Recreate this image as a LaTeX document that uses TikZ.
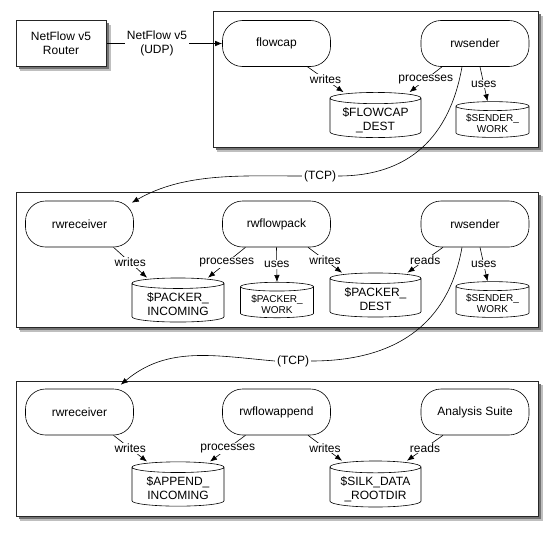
\documentclass[tikz,border=0pt]{standalone}
\usepackage{fontspec}
\setmainfont{Liberation Sans}
\usetikzlibrary{shapes.geometric,arrows.meta}

% two lines of text, set a little low in the drum
\newcommand\drumtext[2]{\raisebox{-3pt}[\height][\depth]{\begin{tabular}{@{}c@{}}#1\\#2\end{tabular}}}

\tikzset{
  panel/.style={draw=black!85, fill=white, line width=1pt},
  shade/.style={fill=black!55},
  softshade/.style={fill=black!25},
  proc/.style={draw, fill=white, rounded corners=20pt, minimum width=108pt,
    minimum height=46pt, line width=0.6pt},
  store/.style={draw, fill=white, cylinder, shape border rotate=90, aspect=0.17,
    anchor=shape center, line width=0.6pt, inner sep=0pt},
  bigstore/.style={store, minimum width=91pt, minimum height=44pt},
  smallstore/.style={store, minimum width=73pt, minimum height=35pt,
    font=\fontsize{10}{11}\selectfont},
  link/.style={-{Latex[length=7pt,width=5.5pt]}, line width=0.6pt},
  lbl/.style={fill=white, inner sep=1pt, midway},
}

\begin{document}
\begin{tikzpicture}[x=1pt, y=-1pt, font=\fontsize{12}{14}\selectfont]
  \useasboundingbox (0,0) rectangle (553,535);

  % shadows under the boxes
  \fill[softshade] (217,16) rectangle (542.5,151.5);
  \fill[shade] (215.5,14.5) rectangle (540.5,149.5);
  \fill[softshade] (20,196) rectangle (542.5,331.5);
  \fill[shade] (18.5,194.5) rectangle (540.5,329.5);
  \fill[softshade] (20,385) rectangle (542.5,520.5);
  \fill[shade] (18.5,383.5) rectangle (540.5,518.5);
  \fill[softshade] (20,25) rectangle (110.5,70.5);
  \fill[shade] (18.5,23.5) rectangle (108.5,68.5);

  % the three hosts
  \node[panel, minimum width=325pt, minimum height=135pt] (capbox) at (375.5,79.5) {};
  \node[panel, minimum width=522pt, minimum height=135pt] (packbox) at (277,259.5) {};
  \node[panel, minimum width=522pt, minimum height=135pt] (appbox) at (277,448.5) {};

  % router
  \node[panel, minimum width=90pt, minimum height=45pt, align=center] (router) at (61,43.5) {NetFlow v5\\Router};
  \node[align=center, inner sep=2pt] (udp) at (157,43.5) {NetFlow v5\\(UDP)};

  % collector
  \node[proc] (flowcap) at (276.5,43.5) {flowcap};
  \node[proc] (senda) at (475,43.5) {rwsender};
  \node[bigstore] (capdest) at (375.5,115) {\drumtext{\$FLOWCAP}{\_DEST}};
  \node[smallstore] (sworka) at (492.5,119.5) {\drumtext{\$SENDER\_}{WORK}};

  % packer
  \node[proc] (recva) at (79.5,224) {rwreceiver};
  \node[proc] (flowpack) at (276.5,224) {rwflowpack};
  \node[proc] (sendb) at (475,224) {rwsender};
  \node[store, minimum width=92pt, minimum height=34pt] (packinc) at (178,300) {\drumtext{\$PACKER\_}{INCOMING}};
  \node[smallstore] (packwork) at (277,300) {\drumtext{\$PACKER\_}{WORK}};
  \node[bigstore] (packdest) at (375.5,295) {\drumtext{\$PACKER\_}{DEST}};
  \node[smallstore] (sworkb) at (492.5,299.5) {\drumtext{\$SENDER\_}{WORK}};

  % appender
  \node[proc] (recvb) at (79.5,412) {rwreceiver};
  \node[proc] (append) at (276.5,412) {rwflowappend};
  \node[proc] (suite) at (475,412) {Analysis Suite};
  \node[bigstore, minimum width=92pt] (appinc) at (178,484) {\drumtext{\$APPEND\_}{INCOMING}};
  \node[bigstore] (rootdir) at (375.5,484) {\drumtext{\$SILK\_DATA}{\_ROOTDIR}};

  \node[inner sep=2pt] (tcpa) at (320,176) {(TCP)};
  \node[inner sep=2pt] (tcpb) at (293,361) {(TCP)};

  % udp feed
  \draw[line width=0.6pt] (router) -- (udp);
  \draw[link] (udp) -- (flowcap);

  % collector links
  \draw[link] ([xshift=31pt]flowcap.south) -- ([xshift=-32pt]capdest.north) node[lbl] {writes};
  \draw[link] ([xshift=-33pt]senda.south) -- ([xshift=34pt]capdest.north) node[lbl] {processes};
  \draw[link] ([xshift=5pt]senda.south) -- ([xshift=-5pt]sworka.north) node[lbl] {uses};

  % packer links
  \draw[link] ([xshift=34pt]recva.south) -- ([xshift=-31pt]packinc.north) node[lbl] {writes};
  \draw[link] ([xshift=-31pt]flowpack.south) -- ([xshift=30pt]packinc.north) node[lbl] {processes};
  \draw[link] (flowpack.south) -- (packwork.north) node[lbl] {uses};
  \draw[link] ([xshift=31.5pt]flowpack.south) -- ([xshift=-33.5pt]packdest.north) node[lbl] {writes};
  \draw[link] ([xshift=-32pt]sendb.south) -- ([xshift=32pt]packdest.north) node[lbl] {reads};
  \draw[link] ([xshift=5pt]sendb.south) -- ([xshift=-5pt]sworkb.north) node[lbl] {uses};

  % appender links
  \draw[link] ([xshift=34pt]recvb.south) -- ([xshift=-31pt]appinc.north) node[lbl] {writes};
  \draw[link] ([xshift=-31pt]append.south) -- ([xshift=32pt]appinc.north) node[lbl] {processes};
  \draw[link] ([xshift=31.5pt]append.south) -- ([xshift=-33.5pt]rootdir.north) node[lbl] {writes};
  \draw[link] ([xshift=-32pt]suite.south) -- ([xshift=31.5pt]rootdir.north) node[lbl] {reads};

  % tcp transfers
  \draw[line width=0.6pt] ([xshift=-13pt]senda.south) to[out=-100, in=0, looseness=1.1] (tcpa.east);
  \draw[link] (tcpa.west) to[out=180, in=30, looseness=0.9] ([shift={(-2pt,-2pt)}]recva.north east);
  \draw[line width=0.6pt] ([xshift=-13pt]sendb.south) to[out=-100, in=0, looseness=1.1] (tcpb.east);
  \draw[link] (tcpb.west) to[out=175, in=40] ([shift={(-13pt,4pt)}]recvb.north east);
\end{tikzpicture}
\end{document}
